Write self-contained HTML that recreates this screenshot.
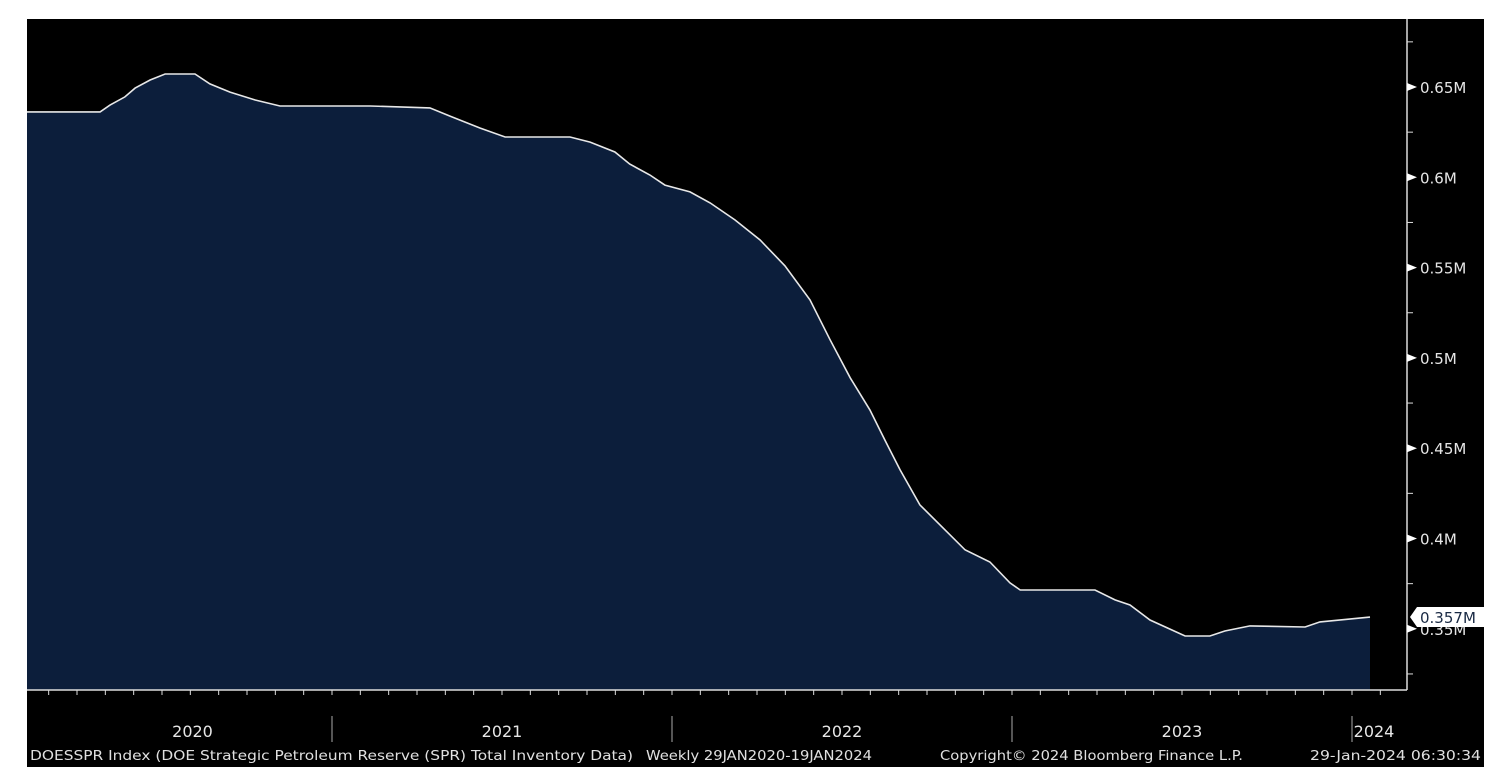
<!DOCTYPE html>
<html><head><meta charset="utf-8"><style>
html,body{margin:0;padding:0;background:#fff;width:1504px;height:782px;overflow:hidden}
svg{display:block}
text{font-family:"DejaVu Sans","Liberation Sans",sans-serif}
</style></head><body>
<svg id="chart" width="1504" height="782">
<rect x="27" y="19" width="1457" height="748" fill="#000"/>
<g id="plot"></g>
</svg>
<script>
const years = [2020.103,2020.318,2020.347,2020.391,2020.421,2020.465,2020.509,2020.597,2020.641,2020.700,2020.774,2020.847,2021.112,2021.288,2021.347,2021.435,2021.509,2021.700,2021.759,2021.832,2021.876,2021.935,2021.979,2022.053,2022.112,2022.185,2022.259,2022.332,2022.406,2022.465,2022.524,2022.582,2022.626,2022.671,2022.729,2022.788,2022.862,2022.935,2022.994,2023.024,2023.244,2023.303,2023.347,2023.406,2023.509,2023.582,2023.626,2023.700,2023.862,2023.906,2024.053];
const values = [0.6362,0.6362,0.6400,0.6445,0.6494,0.6539,0.6572,0.6572,0.6517,0.6472,0.6428,0.6395,0.6395,0.6384,0.6339,0.6273,0.6223,0.6223,0.6195,0.6140,0.6073,0.6013,0.5957,0.5919,0.5858,0.5764,0.5653,0.5510,0.5321,0.5100,0.4890,0.4712,0.4546,0.4380,0.4186,0.4076,0.3937,0.3870,0.3754,0.3715,0.3715,0.3660,0.3632,0.3549,0.3460,0.3460,0.3488,0.3516,0.3510,0.3538,0.3565];
const yTicks = [0.35,0.4,0.45,0.5,0.55,0.6,0.65];
const yTickLabels = ["0.35M","0.4M","0.45M","0.5M","0.55M","0.6M","0.65M"];
const yearLabels = ["2020","2021","2022","2023","2024"];
const lastLabel = "0.357M";

const NS="http://www.w3.org/2000/svg";
const g=document.getElementById('plot');
const X0=27,AX=1407,BASE=690;
function xs(t){return (t-2020)*340-8;}
function ys(v){return 87+(0.65-v)/0.05*90.3;}
function mk(tag,attrs,parent){const e=document.createElementNS(NS,tag);for(const k in attrs)e.setAttribute(k,attrs[k]);(parent||g).appendChild(e);return e;}

let d=`M${xs(years[0])},${BASE}`;
years.forEach((t,i)=>{d+=` L${xs(t).toFixed(1)},${ys(values[i]).toFixed(1)}`;});
const lastX=xs(years[years.length-1]);
d+=` L${lastX},${BASE} Z`;
const area=mk('path',{d:d,fill:'#0c1e3b'});


let ld='';
years.forEach((t,i)=>{ld+=(i?' L':'M')+xs(t).toFixed(1)+','+ys(values[i]).toFixed(1);});
const line=mk('path',{d:ld,fill:'none',stroke:'#e8e8e8','stroke-width':1.6});



mk('line',{x1:X0,y1:BASE,x2:AX,y2:BASE,stroke:'#ddd','stroke-width':1.5});
mk('line',{x1:AX,y1:19,x2:AX,y2:BASE,stroke:'#ddd','stroke-width':1.5});
for(let v=0.325;v<=0.68;v+=0.025){const y=ys(v);if(y<19||y>BASE)continue;mk('line',{x1:AX,y1:y,x2:AX+6,y2:y,stroke:'#ddd','stroke-width':1});}
yTicks.forEach((v,i)=>{
  const y=ys(v);
  mk('path',{d:`M${AX},${y-4} L${AX+10},${y} L${AX},${y+4}Z`,fill:'#fff'});
  const t=mk('text',{x:AX+13,y:y+6,fill:'#e6e6e6','font-size':15});
  t.textContent=yTickLabels[i];
  
  
});
for(let m=0;m<=60;m++){const x=xs(2020+m/12);if(x<X0||x>AX)continue;mk('line',{x1:x,y1:BASE,x2:x,y2:BASE+5,stroke:'#ddd','stroke-width':1});}
yearLabels.forEach((lab,i)=>{
  const yr=2020+i;
  const sx=xs(yr);
  if(sx>X0) mk('line',{x1:sx,y1:716,x2:sx,y2:742,stroke:'#aaa','stroke-width':1});
  let cx=i===0?(X0+xs(2021))/2+13:(i<4?xs(yr+0.5):sx+22);
  const t=mk('text',{x:cx,y:737,fill:'#e6e6e6','font-size':16,'text-anchor':'middle'});
  t.textContent=lab;
  
  
});
const ly=ys(values[values.length-1]);
mk('path',{d:`M1410,${ly} L1417,${ly-10} L1484,${ly-10} L1484,${ly+10} L1417,${ly+10}Z`,fill:'#fff'});
const lt=mk('text',{x:1420,y:ly+6,fill:'#1a2a44','font-size':15});
lt.textContent=lastLabel;


function foot(txt,x,len,name){
  const t=mk('text',{x:x,y:760,fill:'#e0e0e0','font-size':13,'font-family':'"Liberation Mono",monospace',textLength:len,lengthAdjust:'spacingAndGlyphs'});
  t.textContent=txt;
  
  
}
foot("DOESSPR Index (DOE Strategic Petroleum Reserve (SPR) Total Inventory Data)",30,603,'footer-source');
foot("Weekly 29JAN2020-19JAN2024",646,226,'footer-range');
foot("Copyright© 2024 Bloomberg Finance L.P.",940,303,'footer-copyright');
foot("29-Jan-2024 06:30:34",1310,171,'footer-timestamp');
</script>
</body></html>
